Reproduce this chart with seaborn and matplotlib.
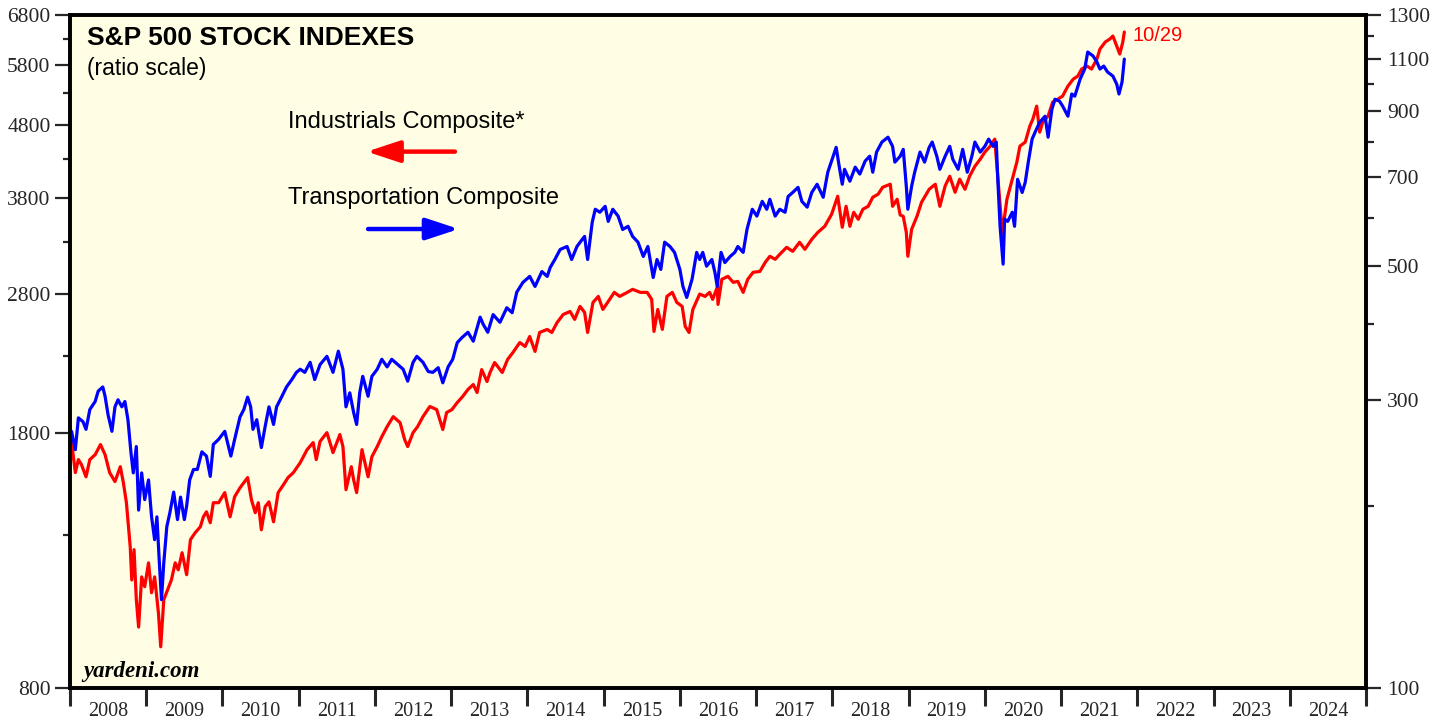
import numpy as np
import pandas as pd
import matplotlib
matplotlib.use("Agg")
import matplotlib.pyplot as plt
from matplotlib.ticker import FixedLocator, NullFormatter, FixedFormatter
import seaborn as sns

# ---------------- data ----------------
ind_dates = [2008.02, 2008.07, 2008.11, 2008.15, 2008.21, 2008.26, 2008.33, 2008.40, 2008.46, 2008.52,
             2008.59, 2008.66, 2008.70, 2008.74, 2008.79, 2008.81, 2008.84, 2008.87, 2008.90, 2008.94,
             2008.98, 2009.03, 2009.07, 2009.11, 2009.16, 2009.19, 2009.23, 2009.28, 2009.33, 2009.38,
             2009.42, 2009.47, 2009.53, 2009.58, 2009.64, 2009.71, 2009.75, 2009.79, 2009.84, 2009.88,
             2009.95, 2010.03, 2010.10, 2010.16, 2010.23, 2010.33, 2010.38, 2010.43, 2010.47, 2010.51,
             2010.56, 2010.61, 2010.67, 2010.73, 2010.80, 2010.86, 2010.93, 2011.02, 2011.11, 2011.19,
             2011.23, 2011.28, 2011.37, 2011.45, 2011.54, 2011.58, 2011.62, 2011.69, 2011.72, 2011.76,
             2011.83, 2011.91, 2011.96, 2012.03, 2012.09, 2012.16, 2012.24, 2012.33, 2012.39, 2012.43,
             2012.50, 2012.56, 2012.63, 2012.72, 2012.81, 2012.89, 2012.94, 2013.01, 2013.08, 2013.15,
             2013.22, 2013.29, 2013.34, 2013.40, 2013.47, 2013.51, 2013.57, 2013.67, 2013.74, 2013.81,
             2013.90, 2013.97, 2014.03, 2014.10, 2014.16, 2014.26, 2014.32, 2014.39, 2014.47, 2014.56,
             2014.62, 2014.69, 2014.75, 2014.79, 2014.86, 2014.93, 2014.99, 2015.06, 2015.14, 2015.21,
             2015.31, 2015.38, 2015.48, 2015.57, 2015.63, 2015.66, 2015.71, 2015.77, 2015.83, 2015.90,
             2015.96, 2016.03, 2016.07, 2016.12, 2016.17, 2016.26, 2016.33, 2016.39, 2016.43, 2016.49,
             2016.50, 2016.55, 2016.63, 2016.70, 2016.76, 2016.83, 2016.89, 2016.96, 2017.05, 2017.12,
             2017.18, 2017.25, 2017.31, 2017.40, 2017.48, 2017.57, 2017.64, 2017.73, 2017.81, 2017.90,
             2017.99, 2018.07, 2018.13, 2018.18, 2018.23, 2018.28, 2018.34, 2018.40, 2018.47, 2018.53,
             2018.60, 2018.66, 2018.76, 2018.79, 2018.85, 2018.89, 2018.93, 2018.97, 2018.99, 2019.04,
             2019.11, 2019.17, 2019.27, 2019.35, 2019.41, 2019.48, 2019.54, 2019.61, 2019.67, 2019.74,
             2019.80, 2019.87, 2019.94, 2020.00, 2020.07, 2020.13, 2020.17, 2020.21, 2020.23, 2020.29,
             2020.36, 2020.42, 2020.46, 2020.53, 2020.59, 2020.63, 2020.68, 2020.72, 2020.76, 2020.83,
             2020.89, 2020.96, 2021.02, 2021.09, 2021.16, 2021.22, 2021.27, 2021.34, 2021.40, 2021.47,
             2021.51, 2021.58, 2021.64, 2021.68, 2021.73, 2021.77, 2021.81, 2021.83]
industrials = [1751, 1587, 1654, 1628, 1566, 1654, 1680, 1735, 1680, 1587,
               1542, 1617, 1537, 1442, 1253, 1128, 1242, 1059, 971, 1139,
               1104, 1191, 1083, 1139, 1016, 912, 1059, 1093, 1128, 1191,
               1165, 1230, 1147, 1282, 1310, 1336, 1379, 1401, 1353, 1442,
               1442, 1489, 1379, 1470, 1512, 1562, 1456, 1397, 1442, 1323,
               1424, 1446, 1357, 1489, 1527, 1562, 1587, 1638, 1707, 1746,
               1654, 1752, 1802, 1691, 1791, 1724, 1503, 1617, 1552, 1489,
               1707, 1566, 1669, 1724, 1779, 1837, 1896, 1860, 1762, 1724,
               1802, 1837, 1896, 1958, 1939, 1820, 1921, 1939, 1983, 2021,
               2067, 2100, 2047, 2202, 2120, 2182, 2252, 2182, 2274, 2325,
               2400, 2370, 2446, 2333, 2478, 2502, 2478, 2558, 2624, 2649,
               2583, 2692, 2641, 2478, 2726, 2779, 2666, 2735, 2815, 2779,
               2815, 2842, 2815, 2815, 2753, 2486, 2666, 2502, 2779, 2815,
               2726, 2692, 2526, 2478, 2666, 2800, 2779, 2815, 2753, 2860,
               2709, 2934, 2962, 2906, 2915, 2815, 2934, 3000, 3009, 3097,
               3157, 3127, 3177, 3248, 3207, 3301, 3228, 3332, 3407, 3473,
               3608, 3821, 3462, 3701, 3473, 3631, 3551, 3666, 3701, 3809,
               3846, 3932, 3970, 3701, 3785, 3600, 3585, 3407, 3157, 3440,
               3585, 3749, 3907, 3970, 3701, 3950, 4072, 3870, 4034, 3907,
               4072, 4204, 4299, 4396, 4481, 4582, 4072, 3631, 3400, 3785,
               4034, 4259, 4481, 4538, 4775, 4883, 5089, 4685, 4837, 4930,
               5155, 5204, 5254, 5424, 5546, 5600, 5726, 5781, 5726, 5911,
               6102, 6240, 6300, 6360, 6161, 6006, 6240, 6442]

trans_dates = [2008.02, 2008.07, 2008.11, 2008.17, 2008.21, 2008.26, 2008.33, 2008.37, 2008.43, 2008.46,
               2008.50, 2008.55, 2008.59, 2008.63, 2008.68, 2008.72, 2008.76, 2008.80, 2008.83, 2008.87,
               2008.90, 2008.94, 2008.98, 2009.03, 2009.07, 2009.11, 2009.14, 2009.17, 2009.20, 2009.23,
               2009.27, 2009.31, 2009.36, 2009.41, 2009.45, 2009.50, 2009.53, 2009.57, 2009.62, 2009.67,
               2009.73, 2009.79, 2009.84, 2009.88, 2009.95, 2010.03, 2010.11, 2010.16, 2010.23, 2010.28,
               2010.33, 2010.37, 2010.40, 2010.45, 2010.51, 2010.56, 2010.61, 2010.67, 2010.71, 2010.78,
               2010.84, 2010.91, 2010.97, 2011.02, 2011.08, 2011.15, 2011.21, 2011.28, 2011.37, 2011.45,
               2011.52, 2011.58, 2011.62, 2011.67, 2011.72, 2011.76, 2011.80, 2011.84, 2011.91, 2011.96,
               2012.03, 2012.09, 2012.16, 2012.22, 2012.30, 2012.37, 2012.43, 2012.50, 2012.55, 2012.63,
               2012.70, 2012.76, 2012.83, 2012.89, 2012.96, 2013.02, 2013.08, 2013.14, 2013.22, 2013.29,
               2013.38, 2013.42, 2013.48, 2013.55, 2013.64, 2013.73, 2013.80, 2013.86, 2013.94, 2014.03,
               2014.10, 2014.19, 2014.26, 2014.30, 2014.36, 2014.43, 2014.52, 2014.58, 2014.65, 2014.72,
               2014.75, 2014.79, 2014.85, 2014.89, 2014.95, 2015.02, 2015.06, 2015.12, 2015.19, 2015.25,
               2015.32, 2015.38, 2015.45, 2015.52, 2015.58, 2015.65, 2015.70, 2015.75, 2015.80, 2015.87,
               2015.93, 2016.00, 2016.04, 2016.09, 2016.16, 2016.22, 2016.26, 2016.30, 2016.35, 2016.42,
               2016.46, 2016.49, 2016.54, 2016.59, 2016.66, 2016.72, 2016.76, 2016.83, 2016.88, 2016.95,
               2017.01, 2017.08, 2017.14, 2017.18, 2017.25, 2017.31, 2017.38, 2017.42, 2017.48, 2017.55,
               2017.60, 2017.67, 2017.73, 2017.80, 2017.88, 2017.94, 2018.01, 2018.05, 2018.09, 2018.13,
               2018.16, 2018.23, 2018.30, 2018.36, 2018.43, 2018.49, 2018.53, 2018.58, 2018.65, 2018.73,
               2018.79, 2018.82, 2018.89, 2018.93, 2018.97, 2018.99, 2019.04, 2019.08, 2019.15, 2019.21,
               2019.27, 2019.31, 2019.37, 2019.41, 2019.48, 2019.54, 2019.58, 2019.65, 2019.71, 2019.77,
               2019.83, 2019.87, 2019.94, 2020.00, 2020.05, 2020.11, 2020.15, 2020.17, 2020.20, 2020.24,
               2020.26, 2020.30, 2020.36, 2020.39, 2020.43, 2020.49, 2020.53, 2020.57, 2020.62, 2020.66,
               2020.72, 2020.79, 2020.83, 2020.88, 2020.92, 2020.98, 2021.02, 2021.09, 2021.14, 2021.18,
               2021.25, 2021.31, 2021.35, 2021.42, 2021.47, 2021.51, 2021.56, 2021.61, 2021.68, 2021.73,
               2021.76, 2021.80, 2021.83]
transports = [266, 248, 280, 276, 268, 289, 298, 310, 315, 304,
              283, 266, 292, 300, 292, 298, 278, 245, 227, 251,
              197, 227, 205, 221, 192, 176, 192, 163, 140, 161,
              185, 195, 211, 190, 207, 190, 200, 221, 230, 230,
              246, 242, 224, 253, 258, 266, 242, 258, 281, 289,
              303, 292, 268, 278, 250, 271, 292, 273, 292, 304,
              315, 324, 333, 337, 333, 346, 324, 343, 354, 333,
              361, 337, 292, 308, 286, 273, 308, 328, 304, 328,
              337, 350, 340, 350, 343, 337, 322, 346, 354, 346,
              334, 333, 339, 320, 340, 350, 373, 380, 388, 375,
              411, 400, 388, 415, 403, 426, 418, 452, 469, 480,
              462, 489, 480, 497, 512, 532, 538, 512, 538, 553,
              559, 512, 590, 620, 613, 627, 592, 620, 604, 574,
              581, 559, 547, 518, 538, 478, 512, 493, 547, 538,
              526, 493, 462, 443, 475, 526, 512, 526, 499, 512,
              487, 462, 526, 506, 518, 526, 538, 526, 574, 620,
              604, 639, 620, 644, 604, 620, 613, 651, 661, 674,
              639, 625, 661, 682, 649, 714, 759, 785, 730, 682,
              722, 690, 728, 709, 745, 759, 714, 771, 801, 816,
              788, 742, 759, 779, 677, 620, 677, 714, 771, 742,
              785, 801, 759, 722, 759, 788, 750, 722, 779, 714,
              759, 801, 771, 788, 810, 788, 801, 695, 581, 503,
              597, 592, 613, 581, 695, 661, 687, 742, 810, 832,
              864, 884, 816, 908, 943, 936, 919, 884, 962, 954,
              1018, 1058, 1129, 1112, 1087, 1058, 1070, 1046, 1030, 999,
              962, 1007, 1099]

left_ticks = [800, 1800, 2800, 3800, 4800, 5800, 6800]
left_minor = [1300, 2300, 3300, 4300, 5300, 6300]
right_ticks = [100, 300, 500, 700, 900, 1100, 1300]
right_minor = [200, 400, 600, 800, 1000, 1200]
years = list(range(2008, 2025))

title = "S&P 500 STOCK INDEXES"
subtitle = "(ratio scale)"
ind_label = "Industrials Composite*"
trans_label = "Transportation Composite"
last_date_label = "10/29"
source = "yardeni.com"

# ---------------- figure ----------------
sns.set_style("white")
plt.rcParams["font.family"] = ["Liberation Sans", "DejaVu Sans"]

W, H = 1448, 719
fig = plt.figure(figsize=(W / 100, H / 100), dpi=100)
x0, x1, y_top, y_bot = 70, 1366, 15, 688
ax = fig.add_axes([x0 / W, 1 - y_bot / H, (x1 - x0) / W, (y_bot - y_top) / H])
ax.set_facecolor("#FFFEE4")
ax2 = ax.twinx()
ax2.patch.set_visible(False)

red = "#FF0000"
blue = "#0000FF"

df_i = pd.DataFrame({"date": ind_dates, "value": industrials})
df_t = pd.DataFrame({"date": trans_dates, "value": transports})
sns.lineplot(data=df_i, x="date", y="value", ax=ax, color=red, linewidth=2.3,
             estimator=None, sort=False)
sns.lineplot(data=df_t, x="date", y="value", ax=ax2, color=blue, linewidth=2.3,
             estimator=None, sort=False)

for a in (ax, ax2):
    a.set_xlabel("")
    a.set_ylabel("")
    a.set_yscale("log")
    a.set_xlim(2008, 2025)
    for s in a.spines.values():
        s.set_linewidth(2.6)
        s.set_color("black")

ax.set_ylim(800, 6800)
ax2.set_ylim(100, 1300)

serif = ["Liberation Serif", "DejaVu Serif"]
ytick_fs = 15.5
xtick_fs = 14.5

ax.yaxis.set_major_locator(FixedLocator(left_ticks))
ax.yaxis.set_major_formatter(FixedFormatter([str(v) for v in left_ticks]))
ax.yaxis.set_minor_locator(FixedLocator(left_minor))
ax.yaxis.set_minor_formatter(NullFormatter())
ax2.yaxis.set_major_locator(FixedLocator(right_ticks))
ax2.yaxis.set_major_formatter(FixedFormatter([str(v) for v in right_ticks]))
ax2.yaxis.set_minor_locator(FixedLocator(right_minor))
ax2.yaxis.set_minor_formatter(NullFormatter())

ax.tick_params(axis="y", which="major", direction="out", length=11, width=1.6,
               pad=3, labelsize=ytick_fs, left=True, right=False)
ax.tick_params(axis="y", which="minor", direction="out", length=5, width=1.6, left=True, right=False)
ax2.tick_params(axis="y", which="major", direction="out", length=11, width=1.6,
                pad=4, labelsize=ytick_fs, right=True, left=False)
ax2.tick_params(axis="y", which="minor", direction="out", length=6, width=1.6, right=True, left=False)

ax.xaxis.set_major_locator(FixedLocator(years + [2025]))
ax.xaxis.set_major_formatter(NullFormatter())
ax.xaxis.set_minor_locator(FixedLocator([y + 0.5 for y in years]))
ax.xaxis.set_minor_formatter(FixedFormatter([str(y) for y in years]))
ax.tick_params(axis="x", which="major", direction="out", length=13, width=2.2, bottom=True)
ax.tick_params(axis="x", which="minor", length=0, pad=10, labelsize=xtick_fs, bottom=True)
ax2.tick_params(axis="x", which="both", bottom=False, top=False)

for lab in ax.get_yticklabels() + ax2.get_yticklabels() + ax.get_xticklabels(minor=True):
    lab.set_fontfamily(serif)

# ---------------- annotations ----------------
ax.text(0.013, 0.966, title, transform=ax.transAxes, fontsize=19, fontweight="bold",
        va="center", ha="left", color="black")
ax.text(0.013, 0.921, subtitle, transform=ax.transAxes, fontsize=16.5,
        va="center", ha="left", color="black")
ax.text(0.168, 0.841, ind_label, transform=ax.transAxes, fontsize=17,
        va="center", ha="left", color="black")
ax.text(0.168, 0.728, trans_label, transform=ax.transAxes, fontsize=17,
        va="center", ha="left", color="black")
ax.text(0.8195, 0.970, last_date_label, transform=ax.transAxes, fontsize=14.5,
        va="center", ha="left", color=red)
ax.text(0.010, 0.024, source, transform=ax.transAxes, fontsize=16.5, fontweight="bold",
        fontstyle="italic", family=serif, va="center", ha="left", color="black")

arrow_kw = dict(arrowstyle="-|>,head_length=1.0,head_width=0.33", lw=3.2,
                shrinkA=0, shrinkB=0, mutation_scale=20)
ax.annotate("", xy=(0.229, 0.797), xytext=(0.297, 0.797), xycoords="axes fraction",
            textcoords="axes fraction", arrowprops=dict(color=red, **arrow_kw))
ax.annotate("", xy=(0.300, 0.682), xytext=(0.230, 0.682), xycoords="axes fraction",
            textcoords="axes fraction", arrowprops=dict(color=blue, **arrow_kw))

fig.savefig("out.png", dpi=100, facecolor="white")
